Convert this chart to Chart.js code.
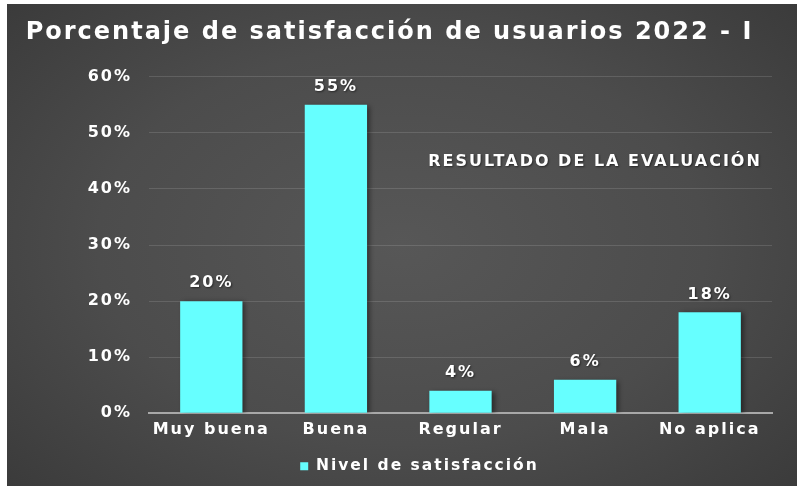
<!DOCTYPE html>
<html>
<head>
<meta charset="utf-8">
<script src="https://cdn.jsdelivr.net/npm/chart.js@4.4.1/dist/chart.umd.min.js"></script>
<style>
  html, body { margin: 0; padding: 0; background: #ffffff; }
  #frame {
    position: absolute; left: 7px; top: 4px; width: 790px; height: 482px;
    background: radial-gradient(ellipse 70% 75% at 50% 50%, #575757 0%, #4c4c4c 55%, #3a3a3a 100%);
  }
  canvas { display: block; }
</style>
</head>
<body>
<div id="frame"><canvas id="c" width="790" height="482"></canvas></div>
<script>
// Satisfaction levels and the share of users in each
const categories = ['Muy buena', 'Buena', 'Regular', 'Mala', 'No aplica'];
const shares = [0.20, 0.55, 0.04, 0.06, 0.18];
const seriesName = 'Nivel de satisfacción';
const chartTitle = 'Porcentaje de satisfacción de usuarios 2022 - I';
const noteText = 'RESULTADO DE LA EVALUACIÓN';

const FONT = '"DejaVu Sans", "Open Sans", sans-serif';
const SPACING = '2px';
const BAR = '#66FFFF';

const pct = v => Math.round(v * 100) + '%';

// Wide lettering for every text drawn on the canvas
const spacingPlugin = {
  id: 'spacing',
  beforeUpdate(chart) { chart.ctx.letterSpacing = SPACING; },
  beforeDraw(chart) { chart.ctx.letterSpacing = SPACING; },
  // legend sits a little right of centre
  afterLayout(chart) { chart.legend.left += 30; chart.legend.right += 30; }
};

// Soft drop shadow behind the bars
const barShadow = {
  id: 'barShadow',
  beforeDatasetsDraw(chart) {
    const ctx = chart.ctx;
    ctx.save();
    ctx.shadowColor = 'rgba(0,0,0,0.45)';
    ctx.shadowBlur = 5;
    ctx.shadowOffsetX = 3;
    ctx.shadowOffsetY = 1;
  },
  afterDatasetsDraw(chart) { chart.ctx.restore(); }
};

// Value labels above each bar and the note inside the plot
const labelsPlugin = {
  id: 'valueLabels',
  afterDraw(chart) {
    const ctx = chart.ctx;
    const meta = chart.getDatasetMeta(0);
    ctx.save();
    ctx.letterSpacing = SPACING;
    ctx.fillStyle = '#ffffff';
    ctx.textAlign = 'center';
    ctx.textBaseline = 'middle';
    ctx.shadowColor = 'rgba(0,0,0,0.5)';
    ctx.shadowBlur = 2;
    ctx.shadowOffsetX = 1;
    ctx.shadowOffsetY = 1;
    ctx.font = 'bold 16px ' + FONT;
    meta.data.forEach((bar, i) => {
      ctx.fillText(pct(shares[i]), bar.x, bar.y - 18);
    });
    const a = chart.chartArea;
    ctx.font = 'bold 16px ' + FONT;
    ctx.fillText(noteText, a.left + (a.right - a.left) * 0.716, chart.scales.y.getPixelForValue(0.448));
    ctx.restore();
  }
};

new Chart(document.getElementById('c'), {
  type: 'bar',
  data: {
    labels: categories,
    datasets: [{
      label: seriesName,
      data: shares,
      backgroundColor: BAR,
      borderWidth: 0,
      categoryPercentage: 1.0,
      barPercentage: 0.5
    }]
  },
  options: {
    responsive: false,
    animation: false,
    devicePixelRatio: 1,
    layout: { padding: { left: 0, right: 25, top: 0, bottom: 2 } },
    plugins: {
      title: {
        display: true,
        text: chartTitle,
        color: '#ffffff',
        font: { family: FONT, size: 24, weight: 'bold' },
        padding: { top: 14, bottom: 30 }
      },
      legend: {
        display: true,
        position: 'bottom',
        labels: {
          color: '#ffffff',
          font: { family: FONT, size: 15.5, weight: 'bold' },
          boxWidth: 8,
          boxHeight: 8,
          padding: 12
        }
      },
      tooltip: { enabled: false }
    },
    scales: {
      x: {
        grid: { display: false, drawTicks: false },
        border: { display: true, color: '#a8a8a8', width: 2 },
        ticks: {
          color: '#ffffff',
          font: { family: FONT, size: 16, weight: 'bold' },
          padding: 7,
          maxRotation: 0
        }
      },
      y: {
        min: 0,
        max: 0.6,
        afterFit(scale) { scale.width = 142; },
        grid: { color: 'rgba(255,255,255,0.13)', lineWidth: 1, drawTicks: false },
        border: { display: false },
        ticks: {
          stepSize: 0.1,
          color: '#ffffff',
          font: { family: FONT, size: 16, weight: 'bold' },
          padding: 17,
          callback: v => pct(v)
        }
      }
    }
  },
  plugins: [spacingPlugin, barShadow, labelsPlugin]
});
</script>
</body>
</html>
